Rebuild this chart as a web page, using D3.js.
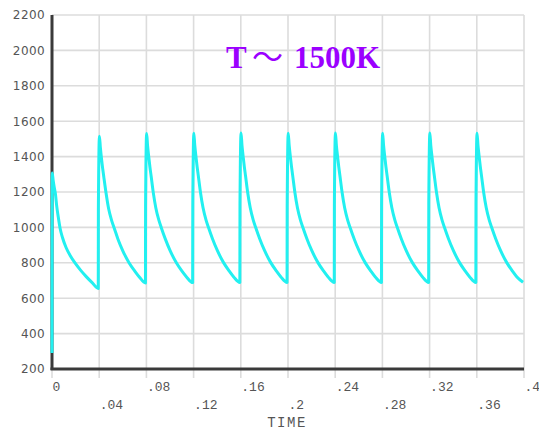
<!DOCTYPE html>
<html>
<head>
<meta charset="utf-8">
<script src="https://cdn.jsdelivr.net/npm/d3@7"></script>
<style>
  html, body { margin: 0; padding: 0; background: #fff; }
  svg { display: block; }
</style>
</head>
<body>
<svg id="chart" width="539" height="431"></svg>
<script>
// ---- data ----
const yTicks = [200, 400, 600, 800, 1000, 1200, 1400, 1600, 1800, 2000, 2200];
const xTicks = [0, 0.04, 0.08, 0.12, 0.16, 0.2, 0.24, 0.28, 0.32, 0.36, 0.4];
const xTickLabels = ["0", ".04", ".08", ".12", ".16", ".2", ".24", ".28", ".32", ".36", ".4"];
const xTitle = "TIME";
const annotationParts = ["T", "\uFF5E", "1500K"];

// temperature history [time, value]
const series = [
  [0, 290], [0.0002, 1307], [0.001, 1265], [0.002, 1222], [0.0028, 1194], [0.004, 1120], [0.0055, 1050], [0.0068, 997], [0.009, 940], [0.012, 885], [0.0155, 840], [0.0195, 799], [0.024, 760], [0.029, 722], [0.034, 688], [0.0392, 655],
  [0.0393, 1100], [0.0402, 1515], [0.041, 1450], [0.042, 1385], [0.043, 1330], [0.044, 1280], [0.0458, 1194], [0.048, 1105], [0.0505, 1040], [0.0527, 997], [0.056, 932], [0.060, 868], [0.0654, 799], [0.070, 755], [0.074, 720], [0.0792, 686],
  [0.0793, 1120], [0.0802, 1530], [0.081, 1462], [0.082, 1398], [0.083, 1340], [0.084, 1290], [0.0858, 1198], [0.088, 1110], [0.0905, 1042], [0.0927, 997], [0.096, 935], [0.100, 870], [0.1054, 800], [0.110, 754], [0.114, 720], [0.1192, 688],
  [0.1193, 1120], [0.1202, 1532], [0.121, 1463], [0.122, 1400], [0.123, 1342], [0.124, 1291], [0.1258, 1199], [0.128, 1111], [0.1305, 1043], [0.1327, 998], [0.136, 936], [0.140, 871], [0.1454, 801], [0.150, 755], [0.154, 720], [0.1592, 689],
  [0.1593, 1125], [0.1602, 1533], [0.161, 1464], [0.162, 1400], [0.163, 1342], [0.164, 1292], [0.1658, 1199], [0.168, 1111], [0.1705, 1043], [0.1727, 998], [0.176, 936], [0.180, 871], [0.1854, 801], [0.190, 755], [0.194, 720], [0.1992, 689],
  [0.1993, 1120], [0.2002, 1532], [0.201, 1463], [0.202, 1400], [0.203, 1342], [0.204, 1291], [0.2058, 1199], [0.208, 1111], [0.2105, 1043], [0.2127, 998], [0.216, 936], [0.220, 871], [0.2254, 801], [0.230, 755], [0.234, 720], [0.2392, 689],
  [0.2393, 1125], [0.2402, 1533], [0.241, 1464], [0.242, 1401], [0.243, 1343], [0.244, 1292], [0.2458, 1200], [0.248, 1111], [0.2505, 1043], [0.2527, 998], [0.256, 936], [0.260, 871], [0.2654, 801], [0.270, 755], [0.274, 720], [0.2792, 689],
  [0.2793, 1120], [0.2802, 1532], [0.281, 1463], [0.282, 1400], [0.283, 1342], [0.284, 1291], [0.2858, 1199], [0.288, 1111], [0.2905, 1043], [0.2927, 998], [0.296, 936], [0.300, 871], [0.3054, 801], [0.310, 755], [0.314, 720], [0.3192, 689],
  [0.3193, 1135], [0.3202, 1533], [0.321, 1464], [0.322, 1401], [0.323, 1343], [0.324, 1292], [0.3258, 1200], [0.328, 1111], [0.3305, 1043], [0.3327, 998], [0.336, 936], [0.340, 871], [0.3454, 801], [0.350, 755], [0.354, 720], [0.3592, 689],
  [0.3593, 1125], [0.3602, 1532], [0.361, 1463], [0.362, 1400], [0.363, 1342], [0.364, 1291], [0.3658, 1199], [0.368, 1111], [0.3705, 1043], [0.3727, 998], [0.376, 936], [0.380, 871], [0.3854, 801], [0.390, 755], [0.394, 720], [0.3992, 690]
];

// ---- layout ----
const svg = d3.select("#chart");
const mLeft = 52, mRight = 524, mTop = 15, mBottom = 369;

const x = d3.scaleLinear().domain([0, 0.4]).range([mLeft, mRight]);
const y = d3.scaleLinear().domain([200, 2200]).range([mBottom, mTop]);

// grid
const grid = svg.append("g").attr("stroke", "#dcdcdc").attr("stroke-width", 1.6);
grid.selectAll("line.h").data(yTicks).join("line").attr("class", "h")
  .attr("x1", mLeft).attr("x2", mRight)
  .attr("y1", d => y(d)).attr("y2", d => y(d));
grid.selectAll("line.v").data(xTicks).join("line").attr("class", "v")
  .attr("y1", mTop).attr("y2", mBottom + 9)
  .attr("x1", d => x(d)).attr("x2", d => x(d));

// axes lines
svg.append("line").attr("x1", x(0)).attr("x2", x(0)).attr("y1", mTop).attr("y2", mBottom + 1)
  .attr("stroke", "#3a3a3a").attr("stroke-width", 3);
svg.append("line").attr("x1", x(0) - 1.5).attr("x2", x(0.4)).attr("y1", mBottom).attr("y2", mBottom)
  .attr("stroke", "#3a3a3a").attr("stroke-width", 3);

// y tick labels
svg.append("g").selectAll("text").data(yTicks).join("text")
  .attr("x", 45).attr("y", d => y(d)).attr("dy", "0.36em")
  .attr("text-anchor", "end")
  .attr("font-family", "DejaVu Sans, sans-serif")
  .attr("font-size", 12).attr("fill", "#555")
  .attr("letter-spacing", 0.4)
  .text(d => d);

// x tick labels (staggered)
svg.append("g").selectAll("text").data(xTicks).join("text")
  .attr("x", d => x(d) + 0.5)
  .attr("y", (d, i) => i % 2 === 0 ? 391 : 409)
  .attr("text-anchor", "start")
  .attr("font-family", "Liberation Mono, Courier New, monospace")
  .attr("font-size", 13).attr("fill", "#555")
  .text((d, i) => xTickLabels[i]);

// x title
svg.append("text").attr("x", 287).attr("y", 427)
  .attr("text-anchor", "middle")
  .attr("font-family", "Liberation Mono, Courier New, monospace")
  .attr("font-size", 14).attr("fill", "#555").attr("letter-spacing", 1.5)
  .text(xTitle);

// curve
svg.append("path").datum(series)
  .attr("fill", "none").attr("stroke", "#22f0f0").attr("stroke-width", 3)
  .attr("stroke-linejoin", "round")
  .attr("d", d3.line().x(d => x(d[0])).y(d => y(d[1])).curve(d3.curveMonotoneX));

// annotation
const ann = svg.append("text").attr("y", 68)
  .attr("font-weight", "bold").attr("fill", "#9b00ff");
ann.append("tspan").attr("x", 226)
  .attr("font-family", "Liberation Serif, Times New Roman, serif").attr("font-size", 31)
  .text(annotationParts[0]);
ann.append("tspan").attr("x", 252)
  .attr("font-family", "Noto Sans CJK SC, sans-serif").attr("font-weight", "normal").attr("font-size", 31)
  .text(annotationParts[1]);
ann.append("tspan").attr("x", 294)
  .attr("font-family", "Liberation Serif, Times New Roman, serif").attr("font-size", 31)
  .text(annotationParts[2]);
</script>
</body>
</html>
